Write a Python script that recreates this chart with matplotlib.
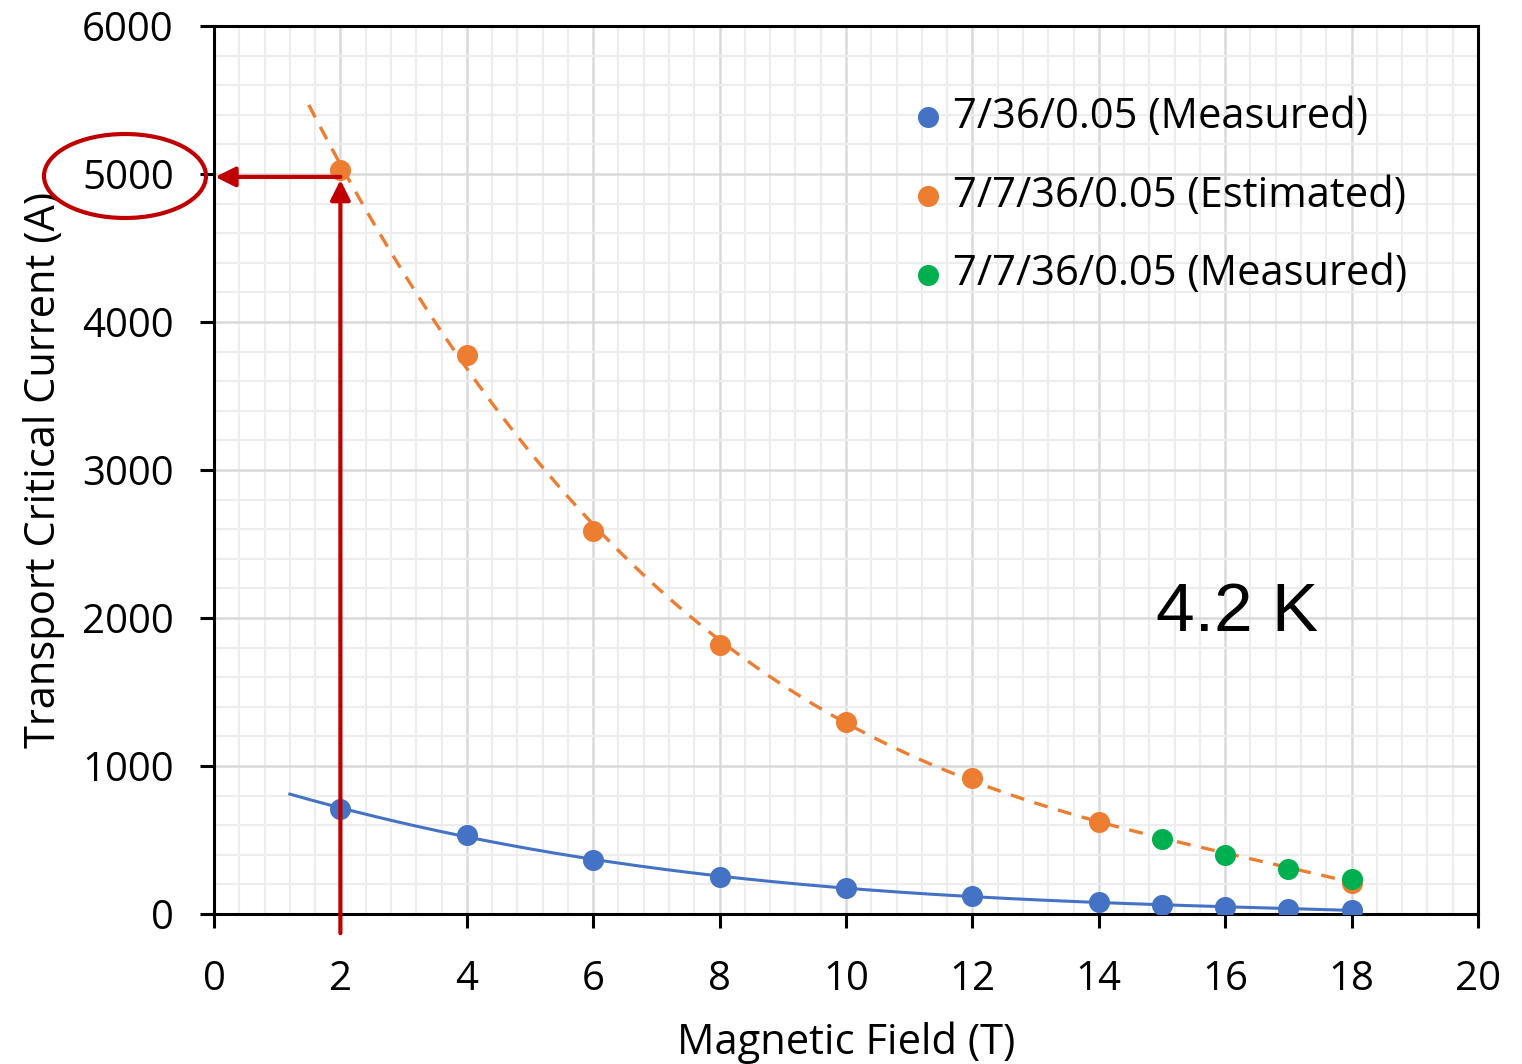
import matplotlib

matplotlib.use("Agg")
import matplotlib.pyplot as plt
import numpy as np
from matplotlib.patches import Ellipse
from matplotlib.ticker import MultipleLocator

# Field values (T) and critical currents (A)
field_blue = [2, 4, 6, 8, 10, 12, 14, 15, 16, 17, 18]
ic_blue = [712, 535, 362, 250, 176, 121, 81, 61, 46, 35, 26]

field_orange = [2, 4, 6, 8, 10, 12, 14, 18]
ic_orange = [5030, 3775, 2585, 1820, 1295, 920, 622, 210]

field_green = [15, 16, 17, 18]
ic_green = [505, 400, 303, 236]

labels = ["7/36/0.05 (Measured)", "7/7/36/0.05 (Estimated)", "7/7/36/0.05 (Measured)"]
colors = ["#4472C4", "#ED7D31", "#00B050"]

RED = "#C00000"
FONT = "Open Sans"


def trend(x, y, x0, x1):
	# cubic polynomial trendline, like the spreadsheet's fitted curve
	coef = np.polyfit(x, y, 3)
	xs = np.linspace(x0, x1, 200)
	return xs, np.polyval(coef, xs)


fig = plt.figure(figsize=(15.22, 10.64), dpi=100)
ax = fig.add_axes([0.1406, 0.1410, 0.8305, 0.8346])

ax.set_xlim(0, 20)
ax.set_ylim(0, 6000)
ax.xaxis.set_major_locator(MultipleLocator(2))
ax.xaxis.set_minor_locator(MultipleLocator(0.4))
ax.yaxis.set_major_locator(MultipleLocator(1000))
ax.yaxis.set_minor_locator(MultipleLocator(200))
ax.set_axisbelow(True)
ax.grid(which="minor", color="#EDEDED", lw=1.6)
ax.grid(which="major", color="#D9D9D9", lw=1.8)

for s in ax.spines.values():
	s.set_linewidth(2.2)
	s.set_color("black")

ax.tick_params(which="major", direction="out", length=10, width=2.2, labelsize=29)
ax.tick_params(axis="y", pad=19)
ax.tick_params(axis="x", pad=23)
ax.tick_params(which="minor", length=0)
for lab in ax.get_xticklabels() + ax.get_yticklabels():
	lab.set_fontfamily(FONT)

# trendlines
xs, ys = trend(field_blue, ic_blue, 1.2, 18)
ax.plot(xs, ys, color=colors[0], lw=2.2, zorder=3)
xs, ys = trend(field_orange, ic_orange, 1.5, 18)
ax.plot(xs, ys, color=colors[1], lw=2.4, dashes=(4.2, 3.2), zorder=3)

ax.scatter(field_blue, ic_blue, s=230, color=colors[0], label=labels[0], zorder=4, lw=0)
ax.scatter(field_orange, ic_orange, s=230, color=colors[1], label=labels[1], zorder=4, lw=0)
ax.scatter(field_green, ic_green, s=230, color=colors[2], label=labels[2], zorder=5, lw=0)

ax.set_xlabel("Magnetic Field (T)", fontsize=30, family=FONT, labelpad=15)
ax.set_ylabel("Transport Critical Current (A)", fontsize=30, family=FONT, labelpad=12)

leg = ax.legend(
	loc="upper left",
	bbox_to_anchor=(0.555, 0.921),
	frameon=False,
	prop={"family": FONT, "size": 30},
	handlelength=0.6,
	handletextpad=0.3,
	labelspacing=0.88,
	borderpad=0,
	borderaxespad=0,
	markerscale=1.0,
)

ax.text(14.9, 2035, "4.2 K", fontsize=50, family="Liberation Sans", va="center", ha="left")

# red annotation: arrows to the 5000 A tick and circle round its label
arrow = dict(arrowstyle="-|>", color=RED, lw=3, mutation_scale=30, shrinkA=0, shrinkB=0)
ax.annotate("", xy=(2, 4960), xytext=(2, -130), arrowprops=arrow, annotation_clip=False, zorder=6)
ax.annotate("", xy=(0.02, 4980), xytext=(2, 4980), arrowprops=arrow, annotation_clip=False, zorder=6)
fig.patches.append(
	Ellipse(
		(125 / 1522, 1 - 176 / 1064), 162 / 1522, 84 / 1064,
		transform=fig.transFigure, fill=False, edgecolor=RED, lw=3,
	)
)

fig.savefig("out.png", dpi=100)
